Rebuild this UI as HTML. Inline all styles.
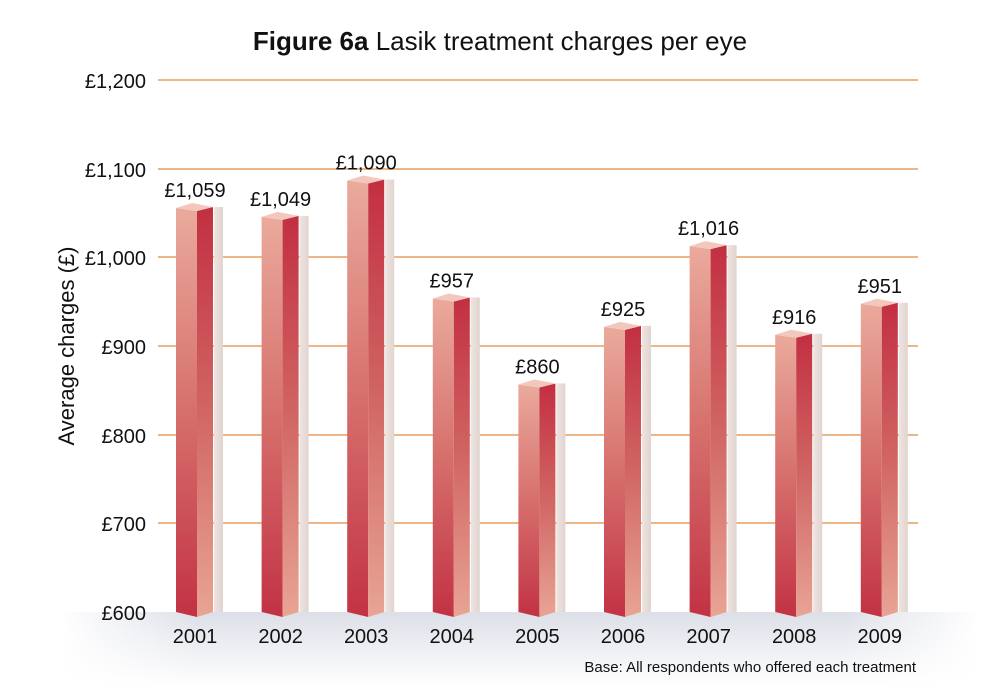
<!DOCTYPE html>
<html><head><meta charset="utf-8"><style>body{margin:0;background:#fff}svg{display:block;font-family:"Liberation Sans",sans-serif}</style></head><body>
<svg width="1000" height="686" viewBox="0 0 1000 686">
<defs>
<linearGradient id="lf" x1="0" y1="0" x2="0" y2="1"><stop offset="0" stop-color="#eaaa9c"/><stop offset="0.5" stop-color="#d66f6c"/><stop offset="1" stop-color="#c23244"/></linearGradient>
<linearGradient id="rf" x1="0" y1="0" x2="0" y2="1"><stop offset="0" stop-color="#c22f41"/><stop offset="0.5" stop-color="#d16664"/><stop offset="1" stop-color="#e8a494"/></linearGradient>
<linearGradient id="fv" x1="0" y1="0" x2="0" y2="1"><stop offset="0" stop-color="#dcdfe7"/><stop offset="1" stop-color="#fff"/></linearGradient>
<linearGradient id="fh" x1="0" y1="0" x2="1" y2="0"><stop offset="0" stop-color="#fff" stop-opacity="1"/><stop offset="0.15" stop-color="#fff" stop-opacity="0"/><stop offset="0.85" stop-color="#fff" stop-opacity="0"/><stop offset="1" stop-color="#fff" stop-opacity="1"/></linearGradient>
<linearGradient id="sh" x1="0" y1="0" x2="1" y2="0"><stop offset="0" stop-color="#eee4e0"/><stop offset="1" stop-color="#e0d4cf"/></linearGradient>
</defs>
<rect x="60" y="612" width="920" height="74" fill="url(#fv)"/>
<rect x="60" y="612" width="920" height="74" fill="url(#fh)"/>
<text x="500" y="50" text-anchor="middle" font-size="26" fill="#111"><tspan font-weight="bold">Figure 6a</tspan> Lasik treatment charges per eye</text>
<g stroke="#e48a3c" stroke-width="1.3">
<line x1="158" y1="80" x2="918" y2="80"/><line x1="158" y1="169" x2="918" y2="169"/><line x1="158" y1="257" x2="918" y2="257"/><line x1="158" y1="346" x2="918" y2="346"/><line x1="158" y1="435" x2="918" y2="435"/><line x1="158" y1="523" x2="918" y2="523"/>
</g>
<g font-size="20" fill="#111" text-anchor="end">
<text x="146" y="88">£1,200</text><text x="146" y="177">£1,100</text><text x="146" y="265">£1,000</text><text x="146" y="354">£900</text><text x="146" y="443">£800</text><text x="146" y="531">£700</text><text x="146" y="620">£600</text>
</g>
<text transform="translate(74,346) rotate(-90)" text-anchor="middle" font-size="22" fill="#111">Average charges (£)</text>
<g id="bars" font-size="20" fill="#111" text-anchor="middle"></g>
<text x="916" y="672" text-anchor="end" font-size="15" fill="#111">Base: All respondents who offered each treatment</text>
</svg>
<script>
var v=[1059,1049,1090,957,860,925,1016,916,951],g=document.getElementById('bars'),h='';
v.forEach(function(d,i){var c=195+i*85.6,y=612-(d-600)*0.8867,L=c-19,M=c+2,R=c+18;
h+='<rect x="'+(R+1)+'" y="'+(y+2)+'" width="9" height="'+(612-y-2)+'" fill="url(#sh)"/>';
h+='<polygon points="'+L+','+(y+3)+' '+M+','+(y+6)+' '+M+',617 '+L+',612" fill="url(#lf)"/>';
h+='<polygon points="'+M+','+(y+6)+' '+R+','+(y+2)+' '+R+',612 '+M+',617" fill="url(#rf)"/>';
h+='<polygon points="'+L+','+(y+3)+' '+(c-3)+','+(y-2)+' '+R+','+(y+2)+' '+M+','+(y+6)+'" fill="#f2c8bc"/>';
h+='<text x="'+c+'" y="'+(y-8)+'">£'+(d>=1000?'1,'+String(d).slice(1):d)+'</text>';
h+='<text x="'+c+'" y="643">'+(2001+i)+'</text>';});
g.innerHTML=h;
</script>
</body></html>
